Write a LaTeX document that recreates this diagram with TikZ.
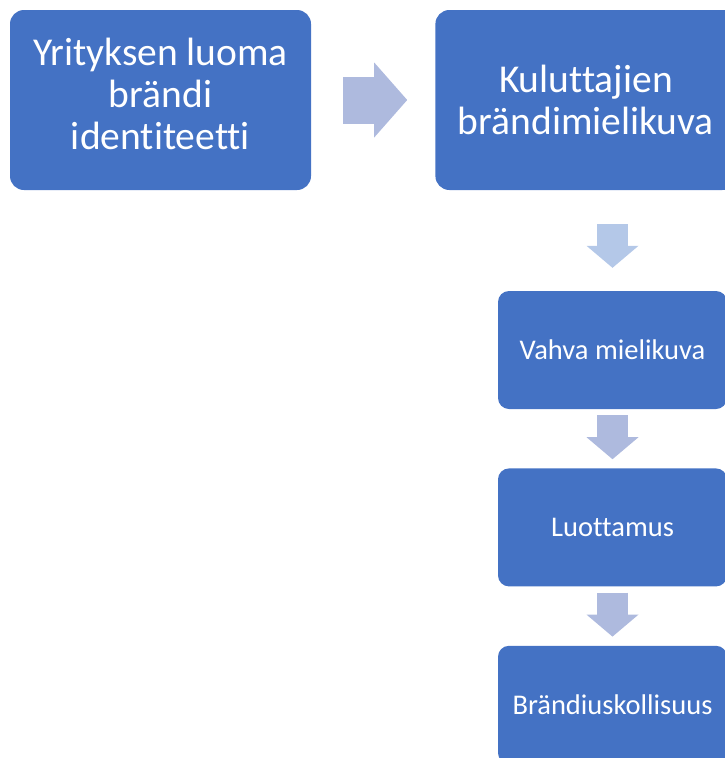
\documentclass[tikz,border=0pt]{standalone}
\usepackage{fontspec}
\setmainfont{Carlito}[Ligatures=NoCommon]
\usetikzlibrary{arrows.meta, positioning, calc}

\definecolor{boxblue}{HTML}{4472C4}
\definecolor{arrowgrey}{HTML}{AEBADE}
\definecolor{arrowlight}{HTML}{B4C8E8}

\begin{document}
\begin{tikzpicture}[
    x=1pt, y=-1pt,
    bigbox/.style={rectangle, rounded corners=14pt, minimum width=301pt, minimum height=180pt,
                   align=center, fill=boxblue, text=white, font=\fontsize{39.5}{42}\selectfont},
    smallbox/.style={rectangle, rounded corners=11pt, minimum width=229pt, minimum height=118pt,
                     align=center, fill=boxblue, text=white, font=\fontsize{28.5}{32}\selectfont},
    wide arrow/.style={draw=arrowgrey, line width=47pt,
                       -{Triangle[width=75pt, length=33pt, line width=0pt, fill=arrowgrey, color=arrowgrey]}},
    down arrow/.style={draw=#1, line width=31pt,
                       -{Triangle[width=52pt, length=22pt, line width=0pt, fill=#1, color=#1]}}
]
\useasboundingbox (0,0) rectangle (725,758);
\clip (0,0) rectangle (725,758);

\node (identity) [bigbox, text depth=12pt] at (160.5,100) {Yrityksen luoma\\brändi\\identiteetti};
\node (image) [bigbox, right=124pt of identity] {Kuluttajien\\brändimielikuva};

\node (strong) [smallbox] at (612.5,350) {Vahva mielikuva};
\node (trust) [smallbox, below=59pt of strong] {Luottamus};
\node (loyalty) [smallbox, below=59pt of trust] {Brändiuskollisuus};

\draw [wide arrow, shorten <=32pt, shorten >=28pt] (identity) -- (image);
\draw [down arrow=arrowlight, shorten <=34pt, shorten >=23pt] (strong.north |- image.south) -- (strong.north);
\draw [down arrow=arrowgrey, shorten <=6pt, shorten >=9pt] (strong) -- (trust);
\draw [down arrow=arrowgrey, shorten <=6pt, shorten >=9pt] (trust) -- (loyalty);

\end{tikzpicture}
\end{document}
